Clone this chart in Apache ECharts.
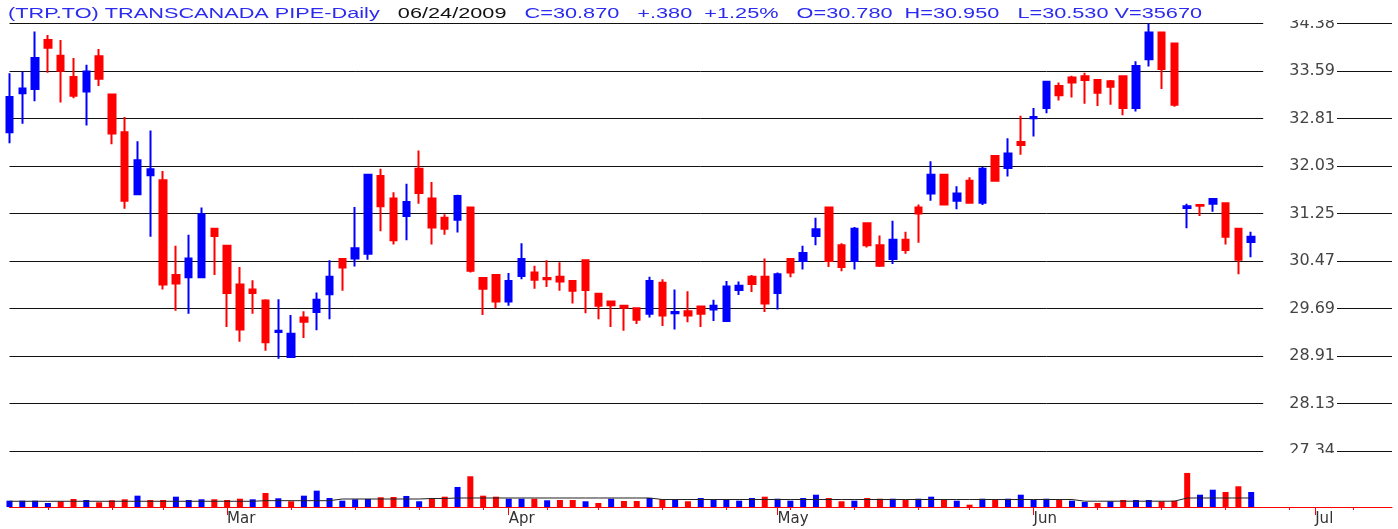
<!DOCTYPE html>
<html lang="en">
<head>
    <meta charset="UTF-8">
    <title>TRP.TO Daily</title>
    <style>
        html, body { margin: 0; padding: 0; background: #fff; }
        #main { width: 1398px; height: 529px; }
    </style>
    <script src="https://cdn.jsdelivr.net/npm/echarts@6/dist/echarts.min.js"></script>
</head>
<body>
<div id="main"></div>
<script>
    // trading days, 2009 (after Jun 24 the axis just runs on over weekdays)
    const febDays = [4, 5, 6, 9, 10, 11, 12, 13, 17, 18, 19, 20, 23, 24, 25, 26, 27];
    const marDays = [2, 3, 4, 5, 6, 9, 10, 11, 12, 13, 16, 17, 18, 19, 20, 23, 24, 25, 26, 27, 30, 31];
    const aprDays = [1, 2, 3, 6, 7, 8, 9, 13, 14, 15, 16, 17, 20, 21, 22, 23, 24, 27, 28, 29, 30];
    const mayDays = [1, 4, 5, 6, 7, 8, 11, 12, 13, 14, 15, 19, 20, 21, 22, 25, 26, 27, 28, 29];
    const junDays = [1, 2, 3, 4, 5, 8, 9, 10, 11, 12, 15, 16, 17, 18, 19, 22, 23, 24, 25, 26, 29, 30];
    const julDays = [1, 2, 3, 6, 7, 8, 9];

    const monthNames = ['Jan', 'Feb', 'Mar', 'Apr', 'May', 'Jun', 'Jul'];
    const priceTicks = ['27.34', '28.13', '28.91', '29.69', '30.47', '31.25', '32.03', '32.81', '33.59', '34.38'];

    const opens = [32.59, 33.23, 33.30, 34.11, 33.85, 33.50, 33.26, 33.84, 33.21, 32.59,
        31.57, 31.88, 31.80, 30.24, 30.20, 30.20, 31.00, 30.72, 30.08, 30.00,
        29.82, 29.30, 28.89, 29.54, 29.63, 29.92, 30.50, 30.51, 30.59, 31.87,
        31.50, 31.21, 31.99, 31.50, 31.18, 31.15, 31.35, 30.19, 30.24, 29.80,
        30.22, 30.28, 30.19, 30.21, 30.14, 30.48, 29.93, 29.80, 29.73, 29.69,
        29.60, 30.11, 29.61, 29.64, 29.72, 29.67, 29.48, 29.99, 30.21, 30.21,
        29.94, 30.50, 30.47, 30.88, 31.35, 30.73, 30.47, 31.09, 30.73, 30.50,
        30.82, 31.35, 31.58, 31.89, 31.46, 31.79, 31.43, 32.20, 32.00, 32.43,
        32.82, 32.99, 33.35, 33.49, 33.51, 33.45, 33.43, 33.51, 32.99, 33.79,
        34.23, 34.05, 31.34, 31.39, 31.41, 31.42, 31.00, 30.78];
    const closes = [33.17, 33.31, 33.81, 33.98, 33.60, 33.19, 33.59, 33.47, 32.57, 31.46,
        32.13, 31.98, 30.08, 30.10, 30.51, 31.24, 30.88, 29.94, 29.34, 29.94,
        29.13, 29.32, 29.27, 29.47, 29.83, 30.21, 30.36, 30.68, 31.89, 31.37,
        30.81, 31.44, 31.59, 31.02, 31.00, 31.54, 30.31, 30.01, 29.80, 30.14,
        30.50, 30.16, 30.17, 30.13, 29.98, 29.99, 29.73, 29.74, 29.70, 29.50,
        30.14, 29.57, 29.63, 29.57, 29.60, 29.73, 30.05, 30.06, 30.09, 29.77,
        30.25, 30.28, 30.60, 30.99, 30.47, 30.37, 31.00, 30.73, 30.39, 30.82,
        30.65, 31.25, 31.89, 31.40, 31.58, 31.43, 31.99, 31.79, 32.24, 32.38,
        32.84, 33.42, 33.20, 33.41, 33.45, 33.24, 33.34, 32.99, 33.68, 34.23,
        33.63, 33.04, 31.37, 31.38, 31.49, 30.87, 30.49, 30.87];
    const lows = [32.41, 32.73, 33.10, 33.57, 33.08, 33.15, 32.70, 33.35, 32.39, 31.33,
        31.57, 30.87, 30.00, 29.65, 29.60, 30.20, 30.24, 29.38, 29.14, 29.60,
        28.99, 28.86, 28.89, 29.20, 29.33, 29.51, 29.98, 30.38, 30.49, 30.96,
        30.74, 30.81, 31.41, 30.74, 30.90, 30.94, 30.28, 29.58, 29.69, 29.73,
        30.17, 30.01, 30.04, 29.98, 29.77, 29.61, 29.51, 29.38, 29.32, 29.43,
        29.54, 29.40, 29.34, 29.46, 29.38, 29.48, 29.48, 29.91, 29.96, 29.63,
        29.67, 30.20, 30.33, 30.73, 30.37, 30.30, 30.33, 30.69, 30.37, 30.42,
        30.59, 30.77, 31.46, 31.40, 31.32, 31.42, 31.39, 31.79, 31.86, 32.22,
        32.52, 32.90, 33.11, 33.16, 33.06, 33.02, 33.04, 32.87, 32.93, 33.67,
        33.30, 33.01, 31.01, 31.21, 31.28, 30.74, 30.25, 30.53];
    const highs = [33.56, 33.59, 34.25, 34.19, 34.11, 33.81, 33.70, 33.96, 33.21, 32.84,
        32.44, 32.62, 31.95, 30.72, 30.90, 31.35, 31.00, 30.72, 30.37, 30.15,
        29.84, 29.84, 29.58, 29.64, 29.95, 30.48, 30.50, 31.36, 31.89, 31.99,
        31.60, 31.74, 32.29, 31.77, 31.24, 31.56, 31.35, 30.19, 30.24, 30.27,
        30.76, 30.39, 30.48, 30.45, 30.14, 30.48, 29.93, 29.80, 29.73, 29.69,
        30.21, 30.17, 30.00, 29.97, 29.72, 29.83, 30.14, 30.13, 30.24, 30.51,
        30.28, 30.50, 30.72, 31.18, 31.35, 30.76, 31.03, 31.09, 30.89, 31.13,
        30.95, 31.40, 32.11, 31.89, 31.70, 31.85, 32.02, 32.20, 32.49, 32.86,
        32.99, 33.42, 33.41, 33.52, 33.57, 33.45, 33.45, 33.51, 33.76, 34.38,
        34.23, 34.06, 31.41, 31.39, 31.49, 31.42, 31.00, 30.95];
    const volumes = [15000, 15000, 15000, 9500, 13600, 19000, 16600, 11200, 15900, 18300,
        26900, 16600, 16600, 24500, 16600, 18300, 18300, 16600, 19700, 18300,
        33300, 20700, 13600, 26900, 38800, 21400, 15000, 18300, 19000, 23100,
        23800, 26200, 13600, 21400, 24500, 47600, 73000, 26900, 24500, 19700,
        19700, 19700, 15900, 16600, 16600, 13600, 9500, 19700, 14300, 14300,
        21400, 18300, 18300, 13600, 21400, 18300, 18300, 15000, 21400, 24500,
        19700, 15000, 21400, 29200, 21400, 13600, 15000, 21400, 19700, 19700,
        16600, 19700, 24500, 16600, 15000, 5500, 19700, 16600, 19700, 29200,
        16600, 19700, 16600, 15000, 11900, 9500, 13600, 16600, 16600, 16600,
        13600, 15000, 80900, 29200, 41100, 35700, 49200, 35670];
    const volumeAvg = [13600, 13600, 13600, 13600, 13600, 13600, 13600, 13600, 13600, 13600,
        13600, 13600, 13600, 13600, 13600, 13600, 13600, 13600, 13600, 13600,
        15000, 15000, 15000, 15000, 15000, 15000, 19000, 19000, 19000, 19000,
        19000, 19000, 19000, 20200, 20200, 21400, 21400, 21400, 21400, 21400,
        21400, 21400, 21400, 21400, 21400, 21400, 21400, 21400, 21400, 21400,
        21400, 17800, 17800, 17800, 17800, 17800, 17800, 17800, 17800, 17800,
        17800, 17800, 17800, 17800, 17800, 17800, 17800, 17800, 17800, 17800,
        17800, 17800, 17800, 17800, 17800, 17800, 17800, 17800, 17800, 17800,
        17800, 17800, 17800, 17800, 13800, 13800, 13800, 13800, 13800, 13800,
        13800, 13800, 21400, 21400, 21400, 21400, 21400, 21400];

    const UP = '#0000ff';
    const DOWN = '#ff0000';

    let dates = [];
    [['02', febDays], ['03', marDays], ['04', aprDays], ['05', mayDays], ['06', junDays], ['07', julDays]]
        .forEach(function (m) {
            m[1].forEach(function (d) {
                dates.push('2009-' + m[0] + '-' + (d < 10 ? '0' + d : d));
            });
        });

    function dayNum(s) { return Date.parse(s + 'T00:00:00Z') / 86400000; }
    function dow(s) { return new Date(s + 'T00:00:00Z').getUTCDay(); }
    function monthStart(i) { return i > 0 && dates[i].slice(5, 7) !== dates[i - 1].slice(5, 7); }
    function weekStart(i) {
        if (i === 0) return false;
        return dow(dates[i]) <= dow(dates[i - 1]) || dayNum(dates[i]) - dayNum(dates[i - 1]) >= 7;
    }

    let candles = [];
    let volBars = [];
    for (let i = 0; i < opens.length; i++) {
        candles.push([opens[i], closes[i], lows[i], highs[i]]);
        let up = i === 0 || closes[i] >= closes[i - 1];
        volBars.push({ value: volumes[i], itemStyle: { color: up ? UP : DOWN } });
    }

    // header line values come from the last bar
    let n = closes.length - 1;
    let chg = closes[n] - closes[n - 1];
    let chgTxt = (chg >= 0 ? '+' : '-') + Math.abs(chg).toFixed(3).replace(/^0/, '');
    let pctTxt = (chg >= 0 ? '+' : '-') + Math.abs(chg / closes[n - 1] * 100).toFixed(2) + '%';
    let header = '{b|(TRP.TO) TRANSCANADA PIPE-Daily}   {k|06/24/2009}   {b|C=' + closes[n].toFixed(3) +
        '   ' + chgTxt + '  ' + pctTxt + '   O=' + opens[n].toFixed(3) + '  H=' + highs[n].toFixed(3) +
        '   L=' + lows[n].toFixed(3) + ' V=' + volumes[n] + '}';

    let chartDom = document.getElementById('main');
    let myChart = echarts.init(chartDom, null, { renderer: 'canvas' });
    let option = {
        animation: false,
        backgroundColor: '#fff',
        grid: [
            { left: 9.5, right: 6, top: 23.5, height: 427.5 },
            { left: 9.5, right: 6, top: 467, height: 40 }
        ],
        xAxis: [
            { type: 'category', gridIndex: 0, data: dates, boundaryGap: false, show: false },
            {
                type: 'category', gridIndex: 1, data: dates, boundaryGap: false, position: 'bottom',
                axisLine: { lineStyle: { color: DOWN, width: 1 } },
                axisTick: { interval: function (i) { return weekStart(i) && !monthStart(i); }, length: 3, lineStyle: { color: DOWN } },
                axisLabel: { show: false },
                splitLine: { show: false }
            },
            {
                type: 'category', gridIndex: 1, data: dates, boundaryGap: false, position: 'bottom',
                axisLine: { show: false },
                axisTick: { interval: function (i) { return monthStart(i); }, length: 8, lineStyle: { color: DOWN } },
                axisLabel: {
                    interval: function (i) { return monthStart(i); },
                    formatter: function (v) { return monthNames[parseInt(v.slice(5, 7), 10) - 1]; },
                    align: 'left', margin: 5, color: '#333',
                    fontFamily: 'DejaVu Sans', fontSize: 15
                },
                splitLine: { show: false }
            }
        ],
        yAxis: [
            {
                // grid lines + labels, one step per tick label
                type: 'value', gridIndex: 0, position: 'right', min: 0, max: priceTicks.length - 1, interval: 1,
                axisLine: { show: false }, axisTick: { show: false },
                splitLine: { lineStyle: { color: '#111', width: 1 } },
                axisLabel: {
                    inside: true, margin: 55,
                    formatter: function (v) { return priceTicks[Math.round(v)]; },
                    color: '#444', fontFamily: 'DejaVu Sans', fontSize: 16,
                    backgroundColor: '#fff', padding: [1, 2, 1, 26]
                }
            },
            { type: 'value', gridIndex: 0, min: 27.34, max: 34.38, show: false },
            { type: 'value', gridIndex: 1, min: 0, max: 95000, show: false }
        ],
        series: [
            {
                name: 'TRP.TO', type: 'candlestick', xAxisIndex: 0, yAxisIndex: 1,
                data: candles, barWidth: 7,
                itemStyle: { color: UP, color0: DOWN, borderColor: UP, borderColor0: DOWN, borderWidth: 2 }
            },
            {
                name: 'Volume', type: 'bar', xAxisIndex: 1, yAxisIndex: 2,
                data: volBars, barWidth: 6
            },
            {
                name: 'Vol avg', type: 'line', xAxisIndex: 1, yAxisIndex: 2,
                data: volumeAvg, symbol: 'none', z: 5,
                lineStyle: { color: '#222', width: 1 }
            }
        ],
        graphic: [
            {
                type: 'text', x: 8, y: 7, scaleX: 1.55, z: 100,
                style: {
                    text: header,
                    font: '14px "Liberation Sans"',
                    rich: {
                        b: { fill: '#2b2bef', fontSize: 14, fontFamily: 'Liberation Sans' },
                        k: { fill: '#111', fontSize: 14, fontFamily: 'Liberation Sans' }
                    }
                }
            },
            { type: 'rect', z: 100, shape: { x: 1262, y: 0, width: 80, height: 20 }, style: { fill: '#fff' } },
            { type: 'rect', z: 100, shape: { x: 1262, y: 453, width: 80, height: 12 }, style: { fill: '#fff' } }
        ]
    };

    option && myChart.setOption(option);
</script>
</body>
</html>
